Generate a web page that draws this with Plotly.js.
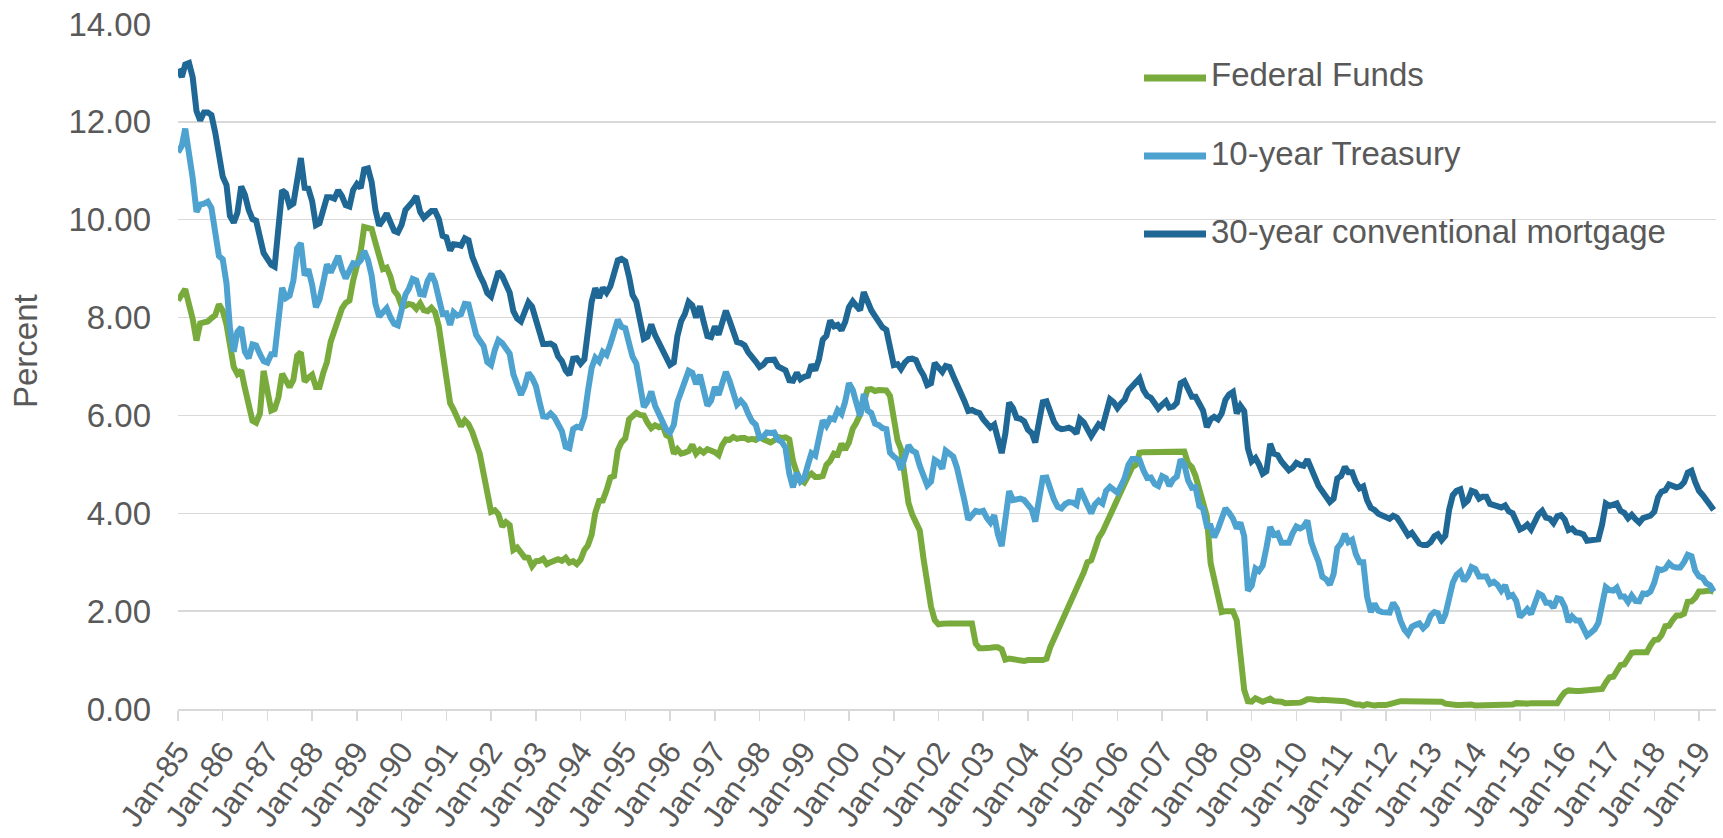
<!DOCTYPE html>
<html>
<head>
<meta charset="utf-8">
<script src="https://cdn.plot.ly/plotly-3.0.1.min.js"></script>
<style>
  html, body { margin: 0; padding: 0; background: #ffffff; }
  #chart { width: 1723px; height: 838px; }
</style>
</head>
<body>
<div id="chart"></div>
<script>
// Monthly averages, January 1985 through May 2019 (percent)
const startYear = 1985;

const fedFunds = [
  8.35, 8.50, 8.58, 8.27, 7.97, 7.53, 7.88, 7.90, 7.92, 7.99, 8.05, 8.27,
  8.14, 7.86, 7.48, 6.99, 6.85, 6.92, 6.56, 6.17, 5.89, 5.85, 6.04, 6.91,
  6.43, 6.10, 6.13, 6.37, 6.85, 6.73, 6.58, 6.73, 7.22, 7.29, 6.69, 6.77,
  6.83, 6.58, 6.58, 6.87, 7.09, 7.51, 7.75, 8.01, 8.19, 8.30, 8.35, 8.76,
  9.12, 9.36, 9.85, 9.84, 9.81, 9.53, 9.24, 8.99, 9.02, 8.84, 8.55, 8.45,
  8.23, 8.24, 8.28, 8.26, 8.18, 8.29, 8.15, 8.13, 8.20, 8.11, 7.81, 7.31,
  6.91, 6.25, 6.12, 5.91, 5.78, 5.90, 5.82, 5.66, 5.45, 5.21, 4.81, 4.43,
  4.03, 4.06, 3.98, 3.73, 3.82, 3.76, 3.25, 3.30, 3.22, 3.10, 3.09, 2.92,
  3.02, 3.03, 3.07, 2.96, 3.00, 3.04, 3.06, 3.03, 3.09, 2.99, 3.02, 2.96,
  3.05, 3.25, 3.34, 3.56, 4.01, 4.25, 4.26, 4.47, 4.73, 4.76, 5.29, 5.45,
  5.53, 5.92, 5.98, 6.05, 6.01, 6.00, 5.85, 5.74, 5.80, 5.76, 5.80, 5.60,
  5.56, 5.22, 5.31, 5.22, 5.24, 5.27, 5.40, 5.22, 5.30, 5.24, 5.31, 5.29,
  5.25, 5.19, 5.39, 5.51, 5.50, 5.56, 5.52, 5.54, 5.54, 5.50, 5.52, 5.50,
  5.56, 5.51, 5.49, 5.45, 5.49, 5.56, 5.54, 5.55, 5.51, 5.07, 4.83, 4.68,
  4.63, 4.76, 4.81, 4.74, 4.74, 4.76, 4.99, 5.07, 5.22, 5.20, 5.42, 5.30,
  5.45, 5.73, 5.85, 6.02, 6.27, 6.53, 6.54, 6.50, 6.52, 6.51, 6.51, 6.40,
  5.98, 5.49, 5.31, 4.80, 4.21, 3.97, 3.77, 3.65, 3.07, 2.49, 2.09, 1.82,
  1.73, 1.74, 1.73, 1.75, 1.75, 1.75, 1.73, 1.74, 1.75, 1.75, 1.34, 1.24,
  1.24, 1.26, 1.25, 1.26, 1.26, 1.22, 1.01, 1.03, 1.01, 1.01, 1.00, 0.98,
  1.00, 1.01, 1.00, 1.00, 1.00, 1.03, 1.26, 1.43, 1.61, 1.76, 1.93, 2.16,
  2.28, 2.50, 2.63, 2.79, 3.00, 3.04, 3.26, 3.50, 3.62, 3.78, 4.00, 4.16,
  4.29, 4.49, 4.59, 4.79, 4.94, 4.99, 5.24, 5.25, 5.25, 5.25, 5.25, 5.24,
  5.25, 5.26, 5.26, 5.25, 5.25, 5.25, 5.26, 5.02, 4.94, 4.76, 4.49, 4.24,
  3.94, 2.98, 2.61, 2.28, 1.98, 2.00, 2.01, 2.00, 1.81, 0.97, 0.39, 0.16,
  0.15, 0.22, 0.18, 0.15, 0.18, 0.21, 0.16, 0.16, 0.15, 0.12, 0.12, 0.12,
  0.11, 0.13, 0.16, 0.20, 0.20, 0.18, 0.18, 0.19, 0.19, 0.19, 0.19, 0.18,
  0.17, 0.16, 0.14, 0.10, 0.09, 0.09, 0.07, 0.10, 0.08, 0.07, 0.08, 0.07,
  0.08, 0.10, 0.13, 0.14, 0.16, 0.16, 0.16, 0.13, 0.14, 0.16, 0.16, 0.16,
  0.14, 0.15, 0.14, 0.15, 0.11, 0.09, 0.09, 0.08, 0.08, 0.09, 0.08, 0.09,
  0.07, 0.07, 0.08, 0.09, 0.09, 0.10, 0.09, 0.09, 0.09, 0.09, 0.09, 0.12,
  0.11, 0.11, 0.11, 0.12, 0.12, 0.13, 0.13, 0.14, 0.14, 0.12, 0.12, 0.24,
  0.34, 0.38, 0.36, 0.37, 0.37, 0.38, 0.39, 0.40, 0.40, 0.40, 0.41, 0.54,
  0.65, 0.66, 0.79, 0.90, 0.91, 1.04, 1.15, 1.16, 1.15, 1.15, 1.16, 1.30,
  1.41, 1.42, 1.51, 1.69, 1.70, 1.82, 1.91, 1.91, 1.95, 2.19, 2.20, 2.27,
  2.40, 2.40, 2.41, 2.42, 2.39
];

const treasury10y = [
  11.38, 11.51, 11.86, 11.43, 10.85, 10.16, 10.31, 10.33, 10.37, 10.24, 9.78, 9.26,
  9.19, 8.70, 7.78, 7.30, 7.71, 7.80, 7.30, 7.17, 7.45, 7.43, 7.25, 7.11,
  7.08, 7.25, 7.25, 8.02, 8.61, 8.40, 8.45, 8.76, 9.42, 9.52, 8.86, 8.99,
  8.67, 8.21, 8.37, 8.72, 9.09, 8.92, 9.06, 9.26, 8.98, 8.80, 8.96, 9.11,
  9.09, 9.17, 9.36, 9.18, 8.86, 8.28, 8.02, 8.11, 8.19, 8.01, 7.87, 7.84,
  8.21, 8.47, 8.59, 8.79, 8.76, 8.48, 8.47, 8.75, 8.89, 8.72, 8.39, 8.08,
  8.09, 7.85, 8.11, 8.04, 8.07, 8.28, 8.27, 7.90, 7.65, 7.53, 7.42, 7.09,
  7.03, 7.34, 7.54, 7.48, 7.39, 7.26, 6.84, 6.59, 6.42, 6.59, 6.87, 6.77,
  6.60, 6.26, 5.98, 5.97, 6.04, 5.96, 5.81, 5.68, 5.36, 5.33, 5.72, 5.77,
  5.75, 5.97, 6.48, 6.97, 7.18, 7.10, 7.30, 7.24, 7.46, 7.74, 7.96, 7.81,
  7.78, 7.47, 7.20, 7.06, 6.63, 6.17, 6.28, 6.49, 6.20, 6.04, 5.93, 5.71,
  5.65, 5.81, 6.27, 6.51, 6.74, 6.91, 6.87, 6.64, 6.83, 6.53, 6.20, 6.30,
  6.58, 6.42, 6.69, 6.89, 6.71, 6.49, 6.22, 6.30, 6.21, 6.03, 5.88, 5.81,
  5.54, 5.57, 5.65, 5.64, 5.65, 5.50, 5.46, 5.34, 4.81, 4.53, 4.83, 4.65,
  4.72, 5.00, 5.23, 5.18, 5.54, 5.90, 5.79, 5.94, 5.92, 6.11, 6.03, 6.28,
  6.66, 6.52, 6.26, 5.99, 6.44, 6.10, 6.05, 5.83, 5.80, 5.74, 5.72, 5.24,
  5.16, 5.10, 4.89, 5.14, 5.39, 5.28, 5.24, 4.97, 4.73, 4.57, 4.65, 5.09,
  5.04, 4.91, 5.28, 5.21, 5.16, 4.93, 4.65, 4.26, 3.87, 3.94, 4.05, 4.03,
  4.05, 3.90, 3.81, 3.96, 3.57, 3.33, 3.98, 4.45, 4.27, 4.29, 4.30, 4.27,
  4.15, 4.08, 3.83, 4.35, 4.72, 4.73, 4.50, 4.28, 4.13, 4.10, 4.19, 4.23,
  4.22, 4.17, 4.50, 4.34, 4.14, 4.00, 4.18, 4.26, 4.20, 4.46, 4.54, 4.47,
  4.42, 4.57, 4.72, 4.99, 5.11, 5.11, 5.09, 4.88, 4.72, 4.73, 4.60, 4.56,
  4.76, 4.72, 4.56, 4.69, 4.75, 5.10, 5.00, 4.67, 4.52, 4.53, 4.15, 4.10,
  3.74, 3.74, 3.51, 3.68, 3.88, 4.10, 4.01, 3.89, 3.69, 3.81, 3.53, 2.42,
  2.52, 2.87, 2.82, 2.93, 3.29, 3.72, 3.56, 3.59, 3.40, 3.39, 3.40, 3.59,
  3.73, 3.69, 3.73, 3.85, 3.42, 3.20, 3.01, 2.70, 2.65, 2.54, 2.76, 3.29,
  3.39, 3.58, 3.41, 3.46, 3.17, 3.00, 3.00, 2.30, 1.98, 2.15, 2.01, 1.98,
  1.97, 1.97, 2.17, 2.05, 1.80, 1.62, 1.53, 1.68, 1.72, 1.75, 1.65, 1.72,
  1.91, 1.98, 1.96, 1.76, 1.93, 2.30, 2.58, 2.74, 2.81, 2.62, 2.72, 2.90,
  2.86, 2.71, 2.72, 2.71, 2.56, 2.60, 2.54, 2.42, 2.53, 2.30, 2.33, 2.21,
  1.88, 1.98, 2.04, 1.94, 2.20, 2.36, 2.32, 2.17, 2.17, 2.07, 2.26, 2.24,
  2.09, 1.78, 1.89, 1.81, 1.81, 1.64, 1.50, 1.56, 1.63, 1.76, 2.14, 2.49,
  2.43, 2.42, 2.48, 2.30, 2.30, 2.19, 2.32, 2.21, 2.20, 2.36, 2.35, 2.40,
  2.58, 2.86, 2.84, 2.87, 2.98, 2.91, 2.89, 2.89, 3.00, 3.15, 3.12, 2.83,
  2.71, 2.68, 2.57, 2.53, 2.40
];

const mortgage30y = [
  13.08, 12.92, 13.17, 13.20, 12.91, 12.22, 12.03, 12.19, 12.19, 12.14, 11.78, 11.26,
  10.88, 10.71, 10.08, 9.94, 10.14, 10.68, 10.51, 10.20, 10.01, 9.98, 9.70, 9.32,
  9.20, 9.08, 9.04, 9.83, 10.60, 10.54, 10.28, 10.33, 10.89, 11.26, 10.65, 10.64,
  10.38, 9.89, 9.93, 10.20, 10.46, 10.46, 10.43, 10.60, 10.48, 10.30, 10.27, 10.61,
  10.73, 10.65, 11.03, 11.05, 10.77, 10.20, 9.88, 9.99, 10.13, 9.95, 9.77, 9.74,
  9.90, 10.20, 10.27, 10.37, 10.48, 10.16, 10.04, 10.10, 10.18, 10.18, 10.01, 9.67,
  9.64, 9.37, 9.50, 9.49, 9.47, 9.62, 9.58, 9.24, 9.01, 8.86, 8.71, 8.50,
  8.43, 8.76, 8.94, 8.85, 8.67, 8.51, 8.13, 7.98, 7.92, 8.09, 8.31, 8.22,
  7.92, 7.71, 7.46, 7.46, 7.47, 7.42, 7.21, 7.11, 6.92, 6.83, 7.16, 7.17,
  7.06, 7.15, 7.68, 8.32, 8.60, 8.40, 8.61, 8.51, 8.64, 8.93, 9.17, 9.20,
  9.15, 8.83, 8.46, 8.32, 7.96, 7.57, 7.61, 7.86, 7.64, 7.48, 7.38, 7.20,
  7.03, 7.08, 7.62, 7.93, 8.07, 8.32, 8.25, 8.00, 8.23, 7.92, 7.62, 7.60,
  7.82, 7.65, 7.90, 8.14, 7.94, 7.69, 7.50, 7.48, 7.43, 7.29, 7.21, 7.10,
  6.99, 7.04, 7.13, 7.14, 7.14, 7.00, 6.95, 6.92, 6.72, 6.71, 6.87, 6.74,
  6.79, 6.81, 7.04, 6.92, 7.15, 7.55, 7.63, 7.94, 7.82, 7.85, 7.74, 7.91,
  8.21, 8.33, 8.24, 8.15, 8.52, 8.29, 8.15, 8.03, 7.91, 7.80, 7.75, 7.38,
  7.03, 7.05, 6.95, 7.08, 7.15, 7.16, 7.13, 6.95, 6.82, 6.62, 6.66, 7.07,
  7.00, 6.89, 7.01, 6.99, 6.81, 6.65, 6.49, 6.29, 6.09, 6.11, 6.07, 6.05,
  5.92, 5.84, 5.75, 5.81, 5.48, 5.23, 5.63, 6.26, 6.15, 5.95, 5.93, 5.88,
  5.71, 5.64, 5.45, 5.83, 6.27, 6.29, 6.06, 5.87, 5.75, 5.72, 5.73, 5.75,
  5.71, 5.63, 5.93, 5.86, 5.72, 5.58, 5.70, 5.82, 5.77, 6.07, 6.33, 6.27,
  6.15, 6.25, 6.32, 6.51, 6.60, 6.68, 6.76, 6.52, 6.40, 6.36, 6.24, 6.14,
  6.22, 6.29, 6.16, 6.18, 6.26, 6.66, 6.70, 6.57, 6.38, 6.38, 6.21, 6.10,
  5.76, 5.92, 5.97, 5.92, 6.04, 6.32, 6.43, 6.48, 6.04, 6.20, 6.09, 5.33,
  5.06, 5.13, 5.00, 4.81, 4.86, 5.42, 5.22, 5.19, 5.06, 4.95, 4.88, 4.93,
  5.03, 4.99, 4.97, 5.10, 4.89, 4.74, 4.56, 4.43, 4.35, 4.23, 4.30, 4.71,
  4.76, 4.95, 4.84, 4.84, 4.64, 4.51, 4.55, 4.27, 4.11, 4.07, 3.99, 3.96,
  3.92, 3.89, 3.95, 3.91, 3.80, 3.68, 3.55, 3.60, 3.50, 3.38, 3.35, 3.35,
  3.41, 3.53, 3.57, 3.45, 3.54, 4.07, 4.37, 4.46, 4.49, 4.19, 4.26, 4.46,
  4.43, 4.30, 4.34, 4.34, 4.19, 4.16, 4.13, 4.12, 4.16, 4.04, 4.00, 3.86,
  3.67, 3.71, 3.77, 3.67, 3.84, 3.98, 4.05, 3.91, 3.89, 3.80, 3.94, 3.96,
  3.87, 3.66, 3.69, 3.61, 3.60, 3.57, 3.44, 3.44, 3.46, 3.47, 3.77, 4.20,
  4.15, 4.17, 4.20, 4.05, 4.01, 3.90, 3.97, 3.88, 3.81, 3.90, 3.92, 3.95,
  4.03, 4.33, 4.44, 4.47, 4.59, 4.57, 4.53, 4.55, 4.63, 4.83, 4.87, 4.64,
  4.46, 4.37, 4.27, 4.14, 4.07
];

const seriesNames = ['Federal Funds', '10-year Treasury', '30-year conventional mortgage'];

const tickYears = [
  1985, 1986, 1987, 1988, 1989, 1990, 1991, 1992, 1993, 1994, 1995, 1996,
  1997, 1998, 1999, 2000, 2001, 2002, 2003, 2004, 2005, 2006, 2007, 2008,
  2009, 2010, 2011, 2012, 2013, 2014, 2015, 2016, 2017, 2018, 2019
];
const tickLabels = [
  'Jan-85', 'Jan-86', 'Jan-87', 'Jan-88', 'Jan-89', 'Jan-90', 'Jan-91', 'Jan-92',
  'Jan-93', 'Jan-94', 'Jan-95', 'Jan-96', 'Jan-97', 'Jan-98', 'Jan-99', 'Jan-00',
  'Jan-01', 'Jan-02', 'Jan-03', 'Jan-04', 'Jan-05', 'Jan-06', 'Jan-07', 'Jan-08',
  'Jan-09', 'Jan-10', 'Jan-11', 'Jan-12', 'Jan-13', 'Jan-14', 'Jan-15', 'Jan-16',
  'Jan-17', 'Jan-18', 'Jan-19'
];

// ---- presentation ----
const W = 1723, H = 838;
const M = { l: 178, r: 7, t: 24, b: 129 };
const plotW = W - M.l - M.r, plotH = H - M.t - M.b;
const px2x = px => (px - M.l) / plotW;           // pixel -> paper x
const px2y = py => 1 - (py - M.t) / plotH;        // pixel -> paper y

const colors = ['#79ab3c', '#4da2cf', '#1f6895'];
const textColor = '#595959';
const gridColor = '#d9d9d9';
const fontFamily = '"Liberation Sans", Arial, Helvetica, sans-serif';
const fontSize = 33;

const monthDates = fedFunds.map((_, i) => {
  const y = startYear + Math.floor(i / 12);
  const m = (i % 12) + 1;
  return `${y}-${String(m).padStart(2, '0')}-01`;
});

const seriesValues = [fedFunds, treasury10y, mortgage30y];
const traces = seriesValues.map((vals, k) => ({
  type: 'scatter',
  mode: 'lines',
  name: seriesNames[k],
  x: monthDates,
  y: vals,
  line: { color: colors[k], width: 6, shape: 'linear' },
  hoverinfo: 'x+y+name'
}));

// hand-placed legend: coloured bar + label for each series
const legendRowsPx = [75, 153, 231];
const shapes = [];
const annotations = [];
legendRowsPx.forEach((py, k) => {
  shapes.push({
    type: 'line', xref: 'paper', yref: 'paper',
    x0: px2x(1144), x1: px2x(1206), y0: px2y(py + 3), y1: px2y(py + 3),
    line: { color: colors[k], width: 7 }
  });
  annotations.push({
    xref: 'paper', yref: 'paper',
    x: px2x(1209), y: px2y(py),
    xanchor: 'left', yanchor: 'middle',
    text: seriesNames[k], showarrow: false,
    font: { family: fontFamily, size: fontSize, color: textColor }
  });
});

// y-axis caption
annotations.push({
  xref: 'paper', yref: 'paper',
  x: px2x(25), y: px2y(351),
  xanchor: 'center', yanchor: 'middle',
  text: 'Percent', textangle: -90, showarrow: false,
  font: { family: fontFamily, size: fontSize, color: textColor }
});

const layout = {
  width: W, height: H,
  margin: M,
  paper_bgcolor: '#ffffff',
  plot_bgcolor: '#ffffff',
  showlegend: false,
  font: { family: fontFamily, size: fontSize, color: textColor },
  xaxis: {
    type: 'date',
    range: ['1985-01-01', '2019-05-20'],
    tickmode: 'array',
    tickvals: tickYears.map(y => `${y}-01-01`),
    ticktext: tickLabels,
    tickangle: -55,
    ticks: 'outside', ticklen: 10, tickwidth: 1.5, tickcolor: gridColor,
    showline: true, linecolor: gridColor, linewidth: 2,
    showgrid: false, zeroline: false,
    tickfont: { family: fontFamily, size: 31, color: textColor }
  },
  yaxis: {
    range: [0, 14],
    tickmode: 'linear', tick0: 0, dtick: 2,
    tickformat: '.2f',
    showgrid: true, gridcolor: gridColor, gridwidth: 1.5,
    zeroline: false, showline: false,
    ticks: '', ticklabelstandoff: 26,
    tickfont: { family: fontFamily, size: fontSize, color: textColor }
  },
  shapes: shapes,
  annotations: annotations
};

Plotly.newPlot('chart', traces, layout, { staticPlot: true, displayModeBar: false });
</script>
</body>
</html>
